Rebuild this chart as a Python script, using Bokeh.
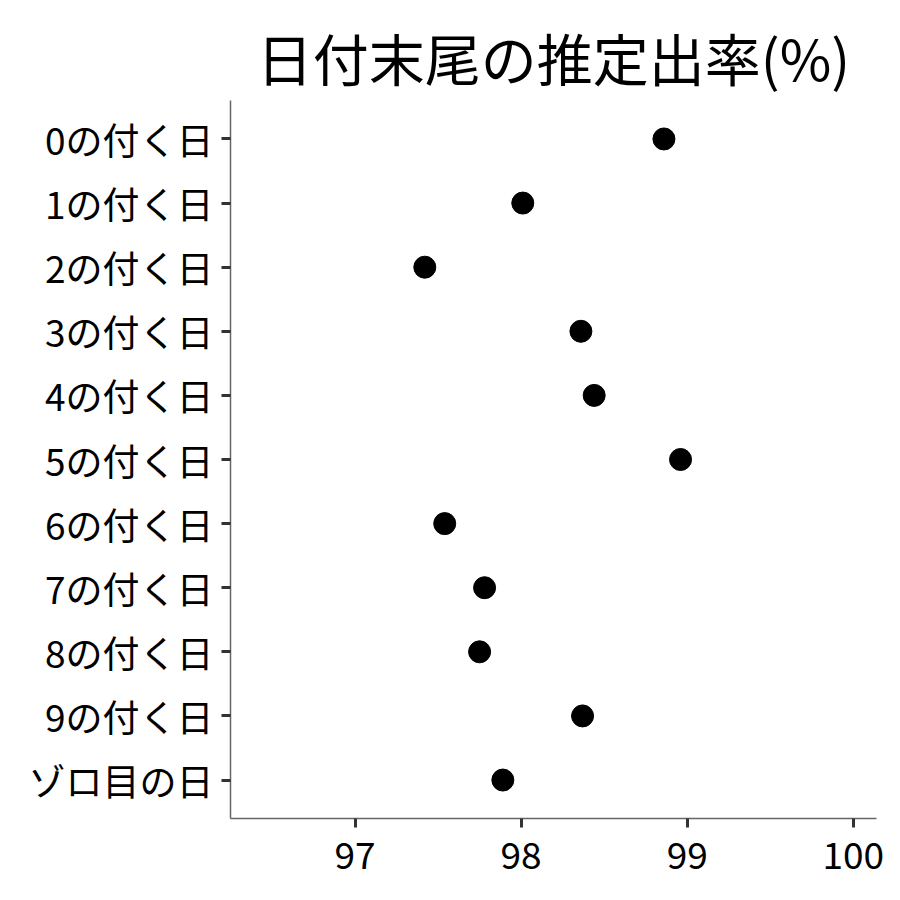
from bokeh.plotting import figure
from bokeh.models import ColumnDataSource, Range1d, FixedTicker
from bokeh.embed import file_html
from bokeh.resources import INLINE

# datos
titulo = "日付末尾の推定出率(%)"
etiquetas = ["0の付く日", "1の付く日", "2の付く日", "3の付く日", "4の付く日",
             "5の付く日", "6の付く日", "7の付く日", "8の付く日", "9の付く日",
             "ゾロ目の日"]
tasas = [98.86, 98.01, 97.42, 98.36, 98.44, 98.96, 97.54, 97.78, 97.75, 98.37, 97.89]
x_ticks = [97, 98, 99, 100]

FUENTE = "Noto Sans CJK JP"

posiciones = list(range(len(etiquetas)))
datos = ColumnDataSource(data={"tasa": tasas, "pos": posiciones, "etiqueta": etiquetas})

p = figure(
    title=titulo,
    width=884, height=884,
    x_range=Range1d(96.25, 100.14),
    y_range=Range1d(len(etiquetas) - 0.4, -0.6),
    toolbar_location=None,
    output_backend="svg",
    min_border_left=230, min_border_right=8,
    min_border_top=100, min_border_bottom=66,
)

p.scatter("tasa", "pos", source=datos, size=22, color="black")

# titulo
p.title.text_font = FUENTE
p.title.text_font_size = "56px"
p.title.text_font_style = "normal"
p.title.align = "center"
p.title.text_color = "black"
p.title.standoff = 8

# ejes
p.xaxis.ticker = FixedTicker(ticks=x_ticks)
p.yaxis.ticker = FixedTicker(ticks=posiciones)
p.yaxis.major_label_overrides = {i: e for i, e in enumerate(etiquetas)}

for eje in (p.xaxis, p.yaxis):
    eje.axis_line_color = "#666666"
    eje.axis_line_width = 1.5
    eje.major_tick_line_color = "#333333"
    eje.major_tick_line_width = 3
    eje.major_tick_out = 9
    eje.major_tick_in = 0
    eje.minor_tick_line_color = None
    eje.major_label_text_font = FUENTE
    eje.major_label_text_font_size = "37px"
    eje.major_label_text_color = "black"
    eje.major_label_standoff = 8

p.xaxis.major_label_standoff = 14

p.xgrid.visible = False
p.ygrid.visible = False
p.outline_line_color = None

open("out.html", "w").write(file_html(p, INLINE))
